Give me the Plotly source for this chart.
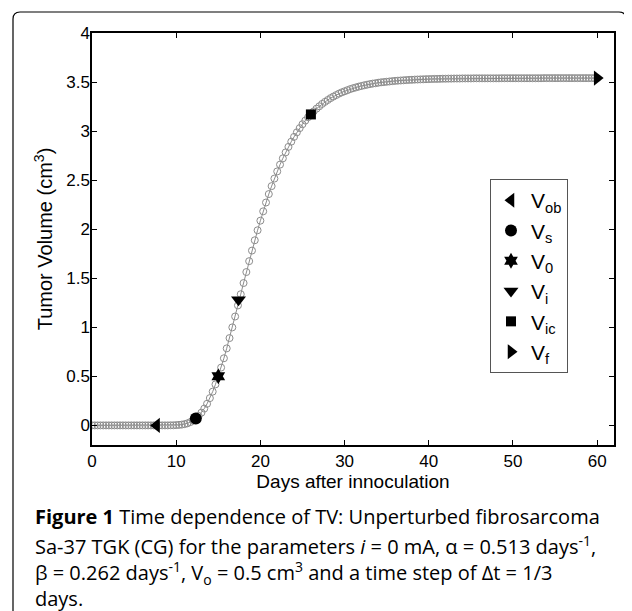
import plotly.graph_objects as go

# ---------------- data ----------------
time_step_days = 1 / 3
n_steps = 181
days = [round(i * time_step_days, 4) for i in range(n_steps)]

tumor_volume = [
    0.000, 0.000, 0.000, 0.000, 0.000, 0.000, 0.000, 0.000, 0.000, 0.000,
    0.000, 0.000, 0.000, 0.000, 0.000, 0.000, 0.000, 0.000, 0.000, 0.000,
    0.000, 0.000, 0.000, 0.000, 0.000, 0.000, 0.000,
    0.000, 0.001, 0.001, 0.003, 0.005, 0.008, 0.013, 0.021, 0.033, 0.048,
    0.069, 0.096, 0.130, 0.171, 0.220, 0.278, 0.344, 0.418,
    0.500, 0.589, 0.684, 0.785, 0.890, 0.999, 1.110, 1.223, 1.337, 1.451,
    1.563, 1.674, 1.782, 1.887, 1.989, 2.087, 2.182, 2.272, 2.358, 2.439, 2.516,
    2.589, 2.658, 2.722, 2.783, 2.839, 2.892, 2.941, 2.987, 3.030, 3.070,
    3.107, 3.141, 3.172, 3.201, 3.229, 3.253, 3.277, 3.298, 3.317, 3.336,
    3.352, 3.367, 3.382, 3.395, 3.406, 3.417, 3.428, 3.437, 3.445, 3.453,
    3.460, 3.467, 3.473, 3.479, 3.484, 3.488, 3.493, 3.497, 3.500, 3.503,
    3.506, 3.509, 3.512, 3.514, 3.516, 3.518, 3.520, 3.522, 3.523, 3.525,
    3.526, 3.527, 3.528, 3.529, 3.530, 3.531, 3.532, 3.532, 3.533, 3.534,
    3.534, 3.535, 3.535, 3.536, 3.536, 3.536, 3.537, 3.537, 3.537, 3.537,
    3.538, 3.538, 3.538, 3.538, 3.538, 3.538, 3.538, 3.538, 3.538, 3.538,
    3.539, 3.539, 3.539, 3.539, 3.539, 3.539, 3.539, 3.539, 3.539, 3.539,
    3.539, 3.539, 3.539, 3.539, 3.539,
    3.540, 3.540, 3.540, 3.540, 3.540, 3.540, 3.540, 3.540, 3.540, 3.540,
    3.540, 3.540, 3.540, 3.540, 3.540, 3.540, 3.540, 3.540, 3.540, 3.540,
]

key_labels = ["V<sub>ob</sub>", "V<sub>s</sub>", "V<sub>0</sub>",
              "V<sub>i</sub>", "V<sub>ic</sub>", "V<sub>f</sub>"]
key_days = [7.67, 12.33, 15.0, 17.4, 26.0, 60.0]
key_volumes = [0.0, 0.07, 0.5, 1.28, 3.17, 3.54]

x_tick_values = [0, 10, 20, 30, 40, 50, 60]
y_tick_values = [0, 0.5, 1, 1.5, 2, 2.5, 3, 3.5, 4]
y_tick_labels = ["0", "0.5", "1", "1.5", "2", "2.5", "3", "3.5", "4"]

caption_lines = [
    "<b>Figure 1</b> Time dependence of TV: Unperturbed fibrosarcoma",
    "Sa-37 TGK (CG) for the parameters <i>i</i> = 0 mA, \u03b1 = 0.513 days<sup>-1</sup>,",
    "\u03b2 = 0.262 days<sup>-1</sup>, V<sub>o</sub> = 0.5 cm<sup>3</sup> and a time step of \u0394t = 1/3",
    "days.",
]

# ---------------- styles ----------------
key_symbols = ["triangle-left", "circle", "hexagram", "triangle-down", "square", "triangle-right"]
key_sizes = [13, 12, 12, 13, 10, 13]

OFF = 8                     # page body margin of the html page
W, H = 632 - OFF, 611 - OFF
PL, PR, PT, PB = 92, 614, 33, 445   # plot area in page pixels


def px_x(px):
    return (px - PL) / (PR - PL)


def px_y(py):
    return (PB - py) / (PB - PT)


CHART_FONT = "Liberation Sans, Arial, sans-serif"
CAPTION_FONT = "Open Sans, Noto Sans, sans-serif"

fig = go.Figure()

fig.add_trace(go.Scatter(
    x=days, y=tumor_volume, mode="lines+markers",
    line=dict(color="#6e6e6e", width=0.8),
    marker=dict(symbol="circle-open", size=7, color="#8c8c8c", line=dict(width=1)),
    showlegend=False, hoverinfo="skip",
))

for lab, xd, yv, sym, sz in zip(key_labels, key_days, key_volumes, key_symbols, key_sizes):
    fig.add_trace(go.Scatter(
        x=[xd], y=[yv], mode="markers", name=lab,
        marker=dict(symbol=sym, size=sz, color="black"),
        cliponaxis=False,
    ))

# rounded frame around the whole figure (open at the bottom)
L, T, R, B, r = 13, 12, 626, 640, 7
path = (f"M {px_x(L)} {px_y(B)} L {px_x(L)} {px_y(T + r)} "
        f"Q {px_x(L)} {px_y(T)} {px_x(L + r)} {px_y(T)} "
        f"L {px_x(R - r)} {px_y(T)} "
        f"Q {px_x(R)} {px_y(T)} {px_x(R)} {px_y(T + r)} "
        f"L {px_x(R)} {px_y(B)}")
fig.add_shape(type="path", path=path, xref="paper", yref="paper",
              line=dict(color="black", width=1.2), layer="below")

caption_y = [517, 545, 573, 598]
for line, yy in zip(caption_lines, caption_y):
    fig.add_annotation(
        text=line, xref="paper", yref="paper", x=px_x(33), y=px_y(yy),
        xanchor="left", yanchor="middle", showarrow=False,
        font=dict(family=CAPTION_FONT, size=20, color="black"),
    )

fig.update_layout(
    width=W, height=H,
    margin=dict(l=PL - OFF, r=W - (PR - OFF), t=PT - OFF, b=H - (PB - OFF), pad=0),
    paper_bgcolor="white", plot_bgcolor="white",
    font=dict(family=CHART_FONT, size=17, color="black"),
    legend=dict(
        x=px_x(490), y=px_y(179), xanchor="left", yanchor="top",
        bordercolor="#555555", borderwidth=1, bgcolor="white",
        font=dict(family=CHART_FONT, size=21, color="black"),
        tracegroupgap=0, itemwidth=30,
    ),
)

fig.update_xaxes(
    range=[0, 62], tickvals=x_tick_values, ticks="inside", ticklen=5,
    tickwidth=1.2, tickcolor="black",
    showline=True, linecolor="black", linewidth=1.5, mirror="ticks",
    showgrid=False, zeroline=False,
    title=dict(text="Days after innoculation", standoff=3,
               font=dict(family=CHART_FONT, size=19)),
)
fig.update_yaxes(
    range=[-0.2, 4], tickvals=y_tick_values, ticktext=y_tick_labels,
    ticks="inside", ticklen=5, tickwidth=1.2, tickcolor="black",
    ticklabelstandoff=-3,
    showline=True, linecolor="black", linewidth=1.5, mirror="ticks",
    showgrid=False, zeroline=False,
    title=dict(text="Tumor Volume (cm<sup>3</sup>)", standoff=8,
               font=dict(family=CHART_FONT, size=20)),
)

fig.write_html("out.html")
